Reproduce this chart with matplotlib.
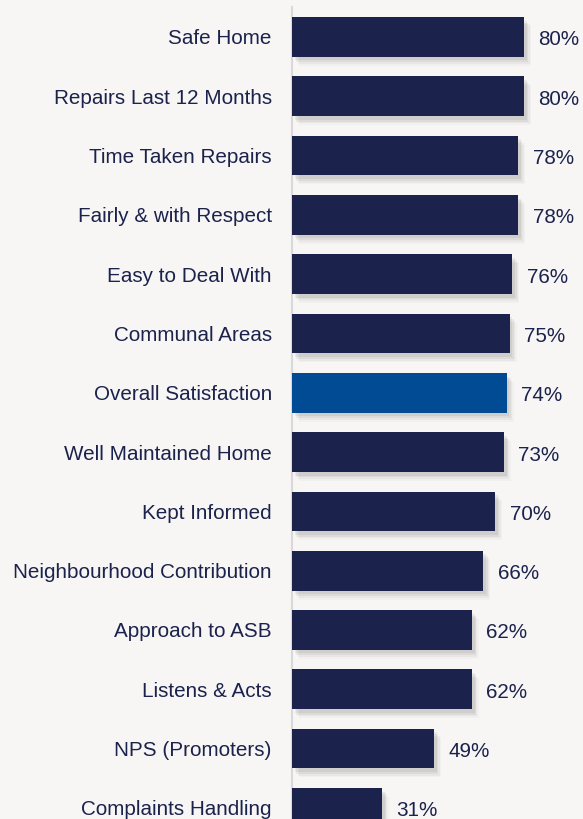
import matplotlib.pyplot as plt
import matplotlib.patheffects as pe

# data
labels = ['Safe Home', 'Repairs Last 12 Months', 'Time Taken Repairs',
          'Fairly & with Respect', 'Easy to Deal With', 'Communal Areas',
          'Overall Satisfaction', 'Well Maintained Home', 'Kept Informed',
          'Neighbourhood Contribution', 'Approach to ASB', 'Listens & Acts',
          'NPS (Promoters)', 'Complaints Handling']
values = [80, 80, 78, 78, 76, 75, 74, 73, 70, 66, 62, 62, 49, 31]
highlight = 'Overall Satisfaction'

navy = '#1b224c'
blue = '#004b93'
bg = '#f7f6f4'

plt.rcParams['font.family'] = ['Liberation Sans', 'DejaVu Sans']

fig = plt.figure(figsize=(5.83, 8.19), dpi=100, facecolor=bg)
ax = fig.add_axes([292 / 583, 0, 291 / 583, 1])
ax.set_facecolor(bg)

ypos = list(range(len(labels)))
colors = [blue if l == highlight else navy for l in labels]

# soft shadow (a few stacked offsets)
shadow = [pe.SimplePatchShadow(offset=(d, -d * 1.3), shadow_rgbFace='#000000', alpha=a)
          for d, a in [(5, 0.025), (4, 0.035), (3, 0.05), (2, 0.06)]]
bars = ax.barh(ypos, values, height=0.67, color=colors, zorder=3)
for b in bars:
    b.set_path_effects(shadow + [pe.Normal()])

for y, v in zip(ypos, values):
    ax.text(v + 5.0, y + 0.05, f'{v}%', va='center', ha='left', fontsize=14.9, color=navy)

ax.set_xlim(0, 100.3)
ax.set_ylim((819 - 37) / 59.3, -37 / 59.3)
ax.set_yticks(ypos)
ax.set_yticklabels(labels, fontsize=14.9, color=navy)
ax.tick_params(axis='y', length=0, pad=14.5)
ax.set_xticks([])

for s in ['top', 'right', 'bottom']:
    ax.spines[s].set_visible(False)
ax.spines['left'].set_color('#d9d9d9')
ax.spines['left'].set_linewidth(1.5)
ax.spines['left'].set_bounds(-0.5, 14)

fig.savefig('out.png', dpi=100, facecolor=bg)
